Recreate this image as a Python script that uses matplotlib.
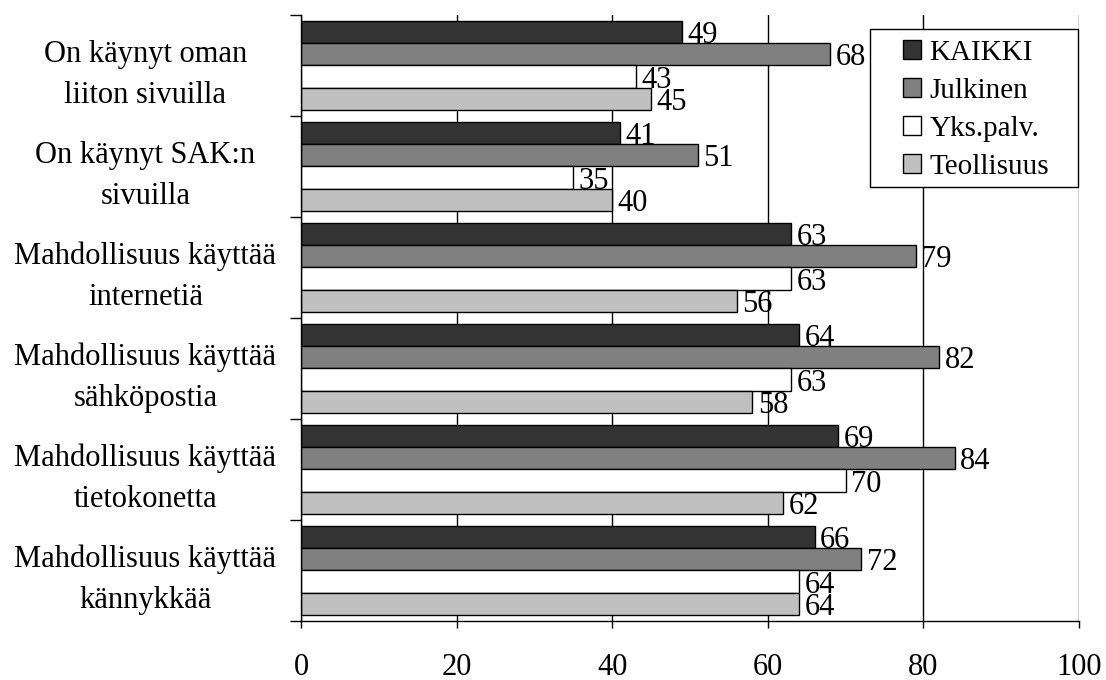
import matplotlib.pyplot as plt
from matplotlib.patches import Rectangle
import numpy as np

plt.rcParams['font.family'] = ['Liberation Serif', 'DejaVu Serif']

# Kysymykset (ylhäältä alas) ja ryhmät
categories = [
    'On käynyt oman\nliiton sivuilla',
    'On käynyt SAK:n\nsivuilla',
    'Mahdollisuus käyttää\ninternetiä',
    'Mahdollisuus käyttää\nsähköpostia',
    'Mahdollisuus käyttää\ntietokonetta',
    'Mahdollisuus käyttää\nkännykkää',
]
series_names = ['KAIKKI', 'Julkinen', 'Yks.palv.', 'Teollisuus']
kaikki = [49, 41, 63, 64, 69, 66]
julkinen = [68, 51, 79, 82, 84, 72]
yks_palv = [43, 35, 63, 63, 70, 64]
teollisuus = [45, 40, 56, 58, 62, 64]

colors = ['#333333', '#808080', '#ffffff', '#c0c0c0']
values = [kaikki, julkinen, yks_palv, teollisuus]

fig = plt.figure(figsize=(11.06, 6.8), dpi=100)
ax = fig.add_axes([0.2722, 0.0868, 0.7034, 0.8912])

n = len(categories)
centers = np.arange(n) + 0.5
h = 0.222

for k, (vals, col, name) in enumerate(zip(values, colors, series_names)):
    ypos = centers + (k - 1.5) * h
    ax.barh(ypos, vals, height=h, color=col, edgecolor='black',
            linewidth=1, label=name, zorder=2)
    for y, v in zip(ypos, vals):
        ax.annotate(str(v), (v, y), xytext=(4, -2.5), textcoords='offset points',
                    ha='left', va='center', fontsize=22, zorder=3)

ax.set_xlim(0, 100)
ax.set_ylim(n, 0)
ax.set_xticks([0, 20, 40, 60, 80, 100])
ax.tick_params(axis='x', direction='out', length=5, width=1, pad=18,
               labelsize=22, colors='black')

# rajaviivat ryhmien välissä, nimet ryhmän keskellä
ax.set_yticks(np.arange(n + 1))
ax.set_yticklabels([])
ax.tick_params(axis='y', which='major', direction='out', length=8, width=1)
ax.set_yticks(centers, minor=True)
ax.set_yticklabels(categories, minor=True, fontsize=22, ha='center',
                   linespacing=1.55)
ax.tick_params(axis='y', which='minor', length=0, pad=112)

ax.grid(axis='x', color='black', linewidth=1, zorder=0)
ax.set_axisbelow(True)
for side in ['top', 'right']:
    ax.spines[side].set_visible(False)
for side in ['left', 'bottom']:
    ax.spines[side].set_linewidth(1)

# selitteen kehys valkoisena pohjana viivojen päällä
frame = Rectangle((0.7866, 0.725), 0.1881, 0.2324, transform=fig.transFigure,
                  facecolor='white', edgecolor='black', linewidth=1,
                  zorder=5, clip_on=False)
ax.add_patch(frame)

leg = ax.legend(loc='upper left', bbox_to_anchor=(903 / 1106, 1 - 40 / 680),
                bbox_transform=fig.transFigure, borderaxespad=0, borderpad=0,
                fontsize=21, frameon=False, handlelength=0.6,
                handleheight=0.6, handletextpad=0.3, labelspacing=0.41)
leg.set_zorder(6)

fig.savefig('out.png', dpi=100)
